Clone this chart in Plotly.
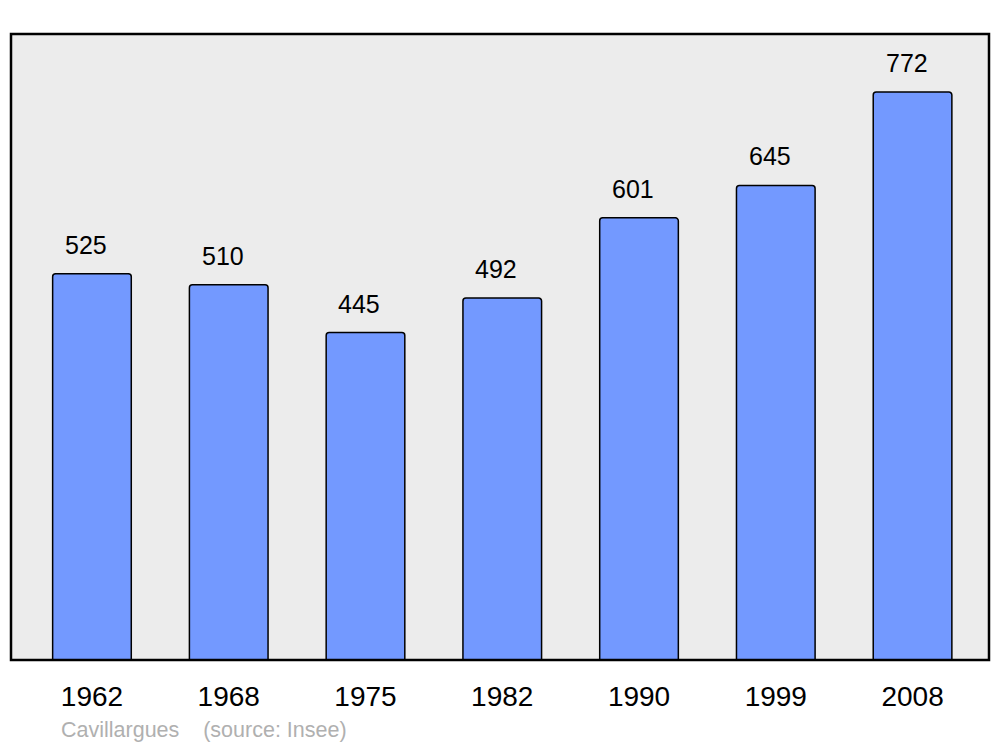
import plotly.graph_objects as go

years = ["1962", "1968", "1975", "1982", "1990", "1999", "2008"]
population = [525, 510, 445, 492, 601, 645, 772]
commune = "Cavillargues"
source = "(source: Insee)"

xs = list(range(len(years)))

fig = go.Figure()
fig.add_trace(go.Bar(
    x=xs, y=population, width=0.575,
    marker=dict(color="#7399FF", line=dict(color="black", width=1.5), cornerradius=3),
    hoverinfo="skip",
))

for x, v in zip(xs, population):
    fig.add_annotation(x=x, y=v, text=str(v), showarrow=False, yanchor="bottom",
                       yshift=13, xshift=-6, font=dict(size=25, color="black"))

fig.add_annotation(xref="paper", yref="paper", x=0.049, y=-0.112, xanchor="left", yanchor="middle",
                   text=f"{commune}&nbsp;&nbsp;&nbsp;&nbsp;{source}", showarrow=False,
                   font=dict(size=21.5, color="#b0b0b0"))

fig.add_shape(type="rect", xref="paper", yref="paper", x0=0, y0=0, x1=1, y1=1,
              line=dict(color="black", width=2.5), layer="above")

fig.update_xaxes(tickmode="array", tickvals=xs, ticktext=years, range=[-0.592, 6.559],
                 showgrid=False, zeroline=False, ticks="outside", ticklen=11,
                 tickcolor="rgba(0,0,0,0)", tickfont=dict(size=28, color="black"))
fig.update_yaxes(range=[0, 850.8], showgrid=False, zeroline=False, showticklabels=False)

fig.update_layout(
    width=1000, height=747,
    margin=dict(l=11, r=11, t=34, b=87),
    plot_bgcolor="#ECECEC", paper_bgcolor="white",
    font=dict(family="Liberation Sans, Arial, sans-serif"),
    showlegend=False,
)

fig.write_html("out.html", config={"displayModeBar": False},
               post_script="document.body.style.margin='0';")
